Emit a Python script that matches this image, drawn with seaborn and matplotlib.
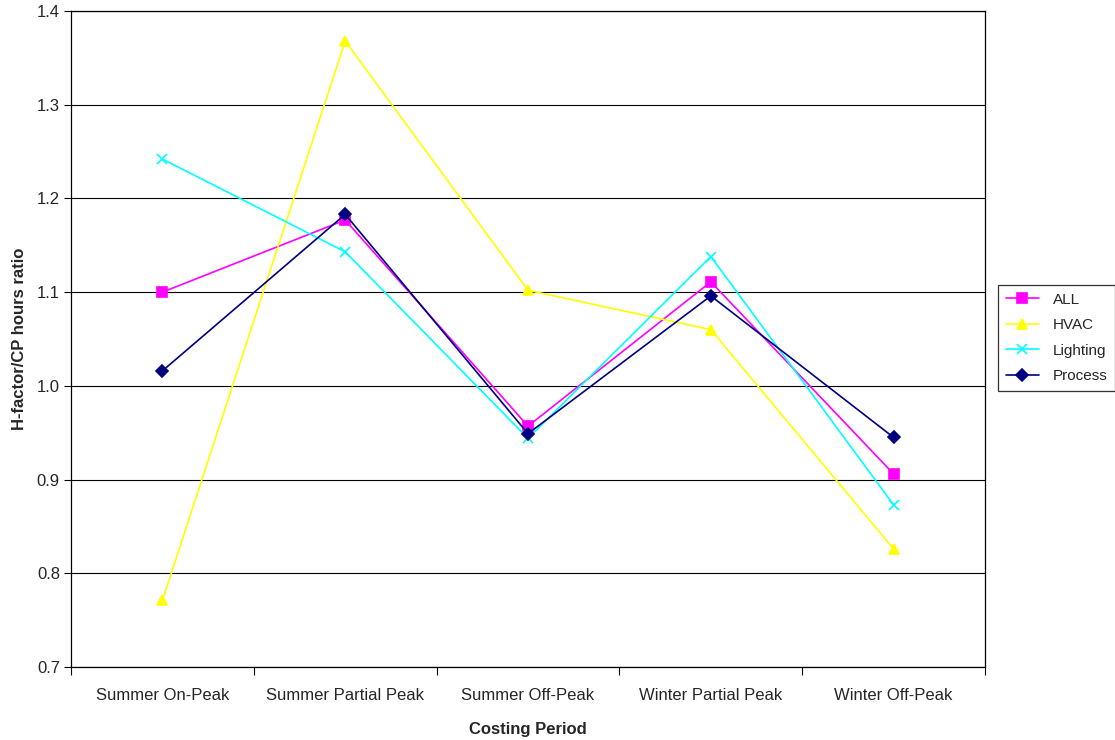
import matplotlib
matplotlib.use("Agg")
import matplotlib.pyplot as plt
import seaborn as sns
import pandas as pd
from matplotlib.ticker import FixedLocator, NullFormatter
from matplotlib.lines import Line2D

periods = ["Summer On-Peak", "Summer Partial Peak", "Summer Off-Peak",
           "Winter Partial Peak", "Winter Off-Peak"]
all_vals = [1.100, 1.177, 0.957, 1.111, 0.906]
hvac_vals = [0.771, 1.368, 1.102, 1.060, 0.826]
lighting_vals = [1.242, 1.143, 0.944, 1.138, 0.873]
process_vals = [1.016, 1.183, 0.949, 1.096, 0.945]
series_names = ["ALL", "HVAC", "Lighting", "Process"]
y_ticks = [0.7, 0.8, 0.9, 1.0, 1.1, 1.2, 1.3, 1.4]

series_vals = dict(zip(series_names, [all_vals, hvac_vals, lighting_vals, process_vals]))

sns.set_theme(style="white")
plt.rcParams["font.family"] = ["Liberation Sans", "DejaVu Sans"]
FS = 12

fig = plt.figure(figsize=(11.15, 7.4), dpi=100)
ax = fig.add_axes([71 / 1115, 1 - 667 / 740, (985 - 71) / 1115, (667 - 11) / 740])

palette = {"ALL": "#FF00FF", "HVAC": "#FFFF00", "Lighting": "#00FFFF", "Process": "#000080"}
markers = {"ALL": "s", "HVAC": "^", "Lighting": "x", "Process": "D"}
msizes = {"ALL": 7, "HVAC": 7, "Lighting": 7, "Process": 6}

# gridlines behind the series
for t in y_ticks:
    ax.axhline(t, color="black", lw=0.8, zorder=0)

for name in series_names:
    d = pd.DataFrame({"pos": range(len(periods)), "value": series_vals[name]})
    sns.lineplot(data=d, x="pos", y="value", color=palette[name], marker=markers[name],
                 markersize=msizes[name], markeredgecolor=palette[name], markeredgewidth=1.2,
                 lw=1.2, ax=ax, zorder=3)

ax.set_xlim(-0.5, 4.5)
ax.set_ylim(0.7, 1.4)
ax.set_yticks(y_ticks)
ax.set_yticklabels([f"{t:.1f}" for t in y_ticks], fontsize=FS)

# ticks at category boundaries, labels centred on categories
ax.xaxis.set_major_locator(FixedLocator([-0.5, 0.5, 1.5, 2.5, 3.5, 4.5]))
ax.xaxis.set_major_formatter(NullFormatter())
ax.xaxis.set_minor_locator(FixedLocator(range(len(periods))))
ax.set_xticklabels(periods, minor=True, fontsize=FS)
ax.tick_params(axis="x", which="major", direction="out", length=6, width=0.8, color="black", bottom=True)
ax.tick_params(axis="x", which="minor", length=0, pad=15)
ax.tick_params(axis="y", direction="out", length=5, width=0.8, color="black", left=True, pad=3)

for sp in ax.spines.values():
    sp.set_color("black")
    sp.set_linewidth(0.9)

ax.set_xlabel("Costing Period", fontsize=FS, fontweight="bold", labelpad=14)
ax.set_ylabel("H-factor/CP hours ratio", fontsize=FS, fontweight="bold", labelpad=7)

handles = [Line2D([], [], color=palette[n], marker=markers[n], lw=1.2, markersize=msizes[n],
                  markeredgecolor=palette[n], markeredgewidth=1.2) for n in series_names]
leg = fig.legend(handles, series_names, loc="center left",
                 bbox_to_anchor=(998 / 1115, 1 - 338 / 740), fontsize=11,
                 frameon=True, fancybox=False, edgecolor="black", handlelength=2.2,
                 borderpad=0.5, labelspacing=0.75, handletextpad=0.9, borderaxespad=0)
leg.get_frame().set_linewidth(0.9)

fig.savefig("out.png", dpi=100, facecolor="white")
